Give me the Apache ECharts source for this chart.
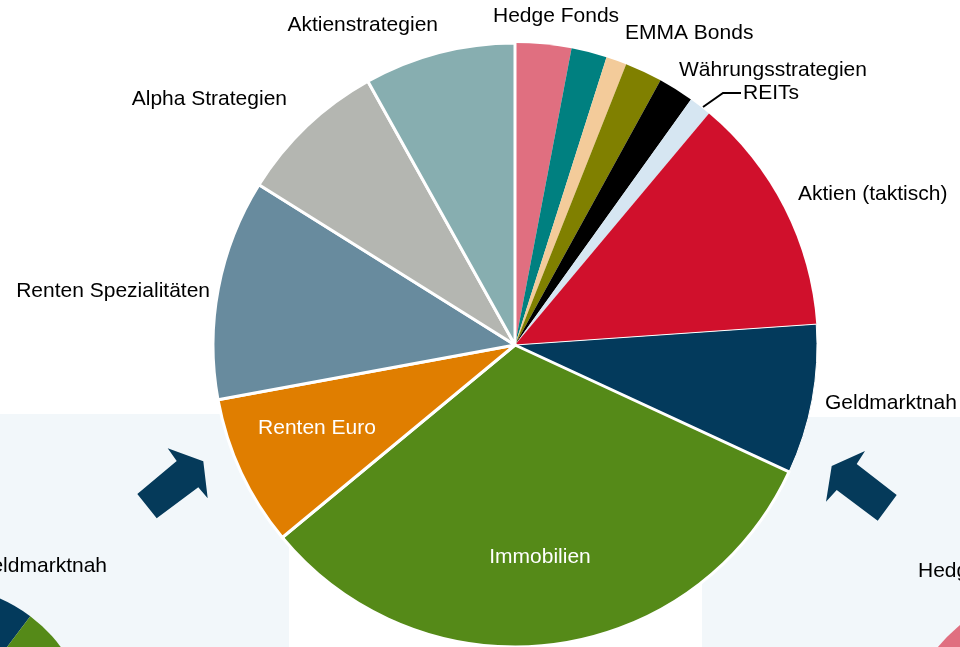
<!DOCTYPE html>
<html>
<head>
<meta charset="utf-8">
<script src="https://cdn.jsdelivr.net/npm/echarts@6/dist/echarts.min.js"></script>
<style>
  html, body { margin: 0; padding: 0; background: #ffffff; }
  #chart { width: 960px; height: 647px; }
</style>
</head>
<body>
<div id="chart"></div>
<script>
// Allocation shown in the large pie, clockwise from 12 o'clock (percent)
const categories = ['Hedge Fonds', 'Sonstige I', 'EMMA Bonds', 'Sonstige II', 'Währungsstrategien', 'REITs',
  'Aktien (taktisch)', 'Geldmarktnah', 'Immobilien', 'Renten Euro', 'Renten Spezialitäten',
  'Alpha Strategien', 'Aktienstrategien'];
const shares = [3.0, 1.9, 1.1, 2.0, 1.9, 1.2, 12.8, 8.0, 32.1, 8.1, 11.8, 8.0, 8.1];

// Neighbouring allocations, only partly inside the view
const leftCategories = ['Geldmarktnah', 'Immobilien', 'Übrige'];
const leftShares = [7.5, 35, 57.5];
const rightCategories = ['Hedge Fonds', 'Übrige'];
const rightShares = [11, 89];

const palette = {
  'Hedge Fonds': '#e06f80', 'Sonstige I': '#008080', 'EMMA Bonds': '#f3cb9a', 'Sonstige II': '#808000',
  'Währungsstrategien': '#000000', 'REITs': '#d6e6f2', 'Aktien (taktisch)': '#d0102c',
  'Geldmarktnah': '#033a5c', 'Immobilien': '#558a18', 'Renten Euro': '#e07e00',
  'Renten Spezialitäten': '#688b9e', 'Alpha Strategien': '#b4b6b1', 'Aktienstrategien': '#87aeb0',
  'Übrige': '#b4b6b1'
};
// white separators on the broad slices only
const borderWidths = {
  'Geldmarktnah': 1, 'Immobilien': 3, 'Renten Euro': 3, 'Renten Spezialitäten': 3,
  'Alpha Strategien': 3, 'Aktienstrategien': 3
};
const hiddenLabels = ['Sonstige I', 'Sonstige II'];
const insideLabels = ['Immobilien', 'Renten Euro'];

// label anchors: [x, y, align]
const labelSpots = {
  'Hedge Fonds': [493, 16, 'left'],
  'EMMA Bonds': [625, 33, 'left'],
  'Währungsstrategien': [679, 70, 'left'],
  'REITs': [743, 93, 'left'],
  'Aktien (taktisch)': [798, 194, 'left'],
  'Geldmarktnah': [825, 403, 'left'],
  'Immobilien': [540, 557, 'center'],
  'Renten Euro': [317, 428, 'center'],
  'Renten Spezialitäten': [210, 291, 'right'],
  'Alpha Strategien': [287, 99, 'right'],
  'Aktienstrategien': [438, 25, 'right']
};

const FONT = '"Liberation Sans", Arial, Helvetica, sans-serif';

function mainItems() {
  return categories.map((name, i) => {
    const inside = insideLabels.includes(name);
    return {
      name: name,
      value: shares[i],
      itemStyle: { color: palette[name], borderColor: '#ffffff', borderWidth: borderWidths[name] || 0 },
      label: {
        show: !hiddenLabels.includes(name),
        position: inside ? 'inside' : 'outside',
        color: inside ? '#ffffff' : '#000000'
      },
      labelLine: { show: name === 'REITs', lineStyle: { color: '#000000', width: 2 } }
    };
  });
}

function sideItems(names, values, labelled) {
  return names.map((name, i) => ({
    name: name,
    value: values[i],
    itemStyle: { color: palette[name] },
    label: { show: name === labelled, position: 'outside', color: '#000000' },
    labelLine: { show: false }
  }));
}

const chart = echarts.init(document.getElementById('chart'), null, { renderer: 'canvas' });

chart.setOption({
  animation: false,
  backgroundColor: '#ffffff',
  graphic: [
    { type: 'rect', z: 0, shape: { x: 0, y: 414, width: 289, height: 233 }, style: { fill: '#f2f7fa' } },
    { type: 'rect', z: 0, shape: { x: 702, y: 417, width: 258, height: 230 }, style: { fill: '#f2f7fa' } },
    { type: 'polygon', z: 1, shape: { points: [[203.3, 461.3], [207.7, 498.3], [198.3, 487.3], [156.7, 518.3], [137.3, 494], [176.7, 461], [167.7, 448.3]] }, style: { fill: '#053a5a' } },
    { type: 'polygon', z: 1, shape: { points: [[831.7, 466], [865, 451], [856.7, 464], [896.7, 495], [877.7, 520.7], [836.7, 490], [826, 501.7]] }, style: { fill: '#053a5a' } }
  ],
  series: [
    {
      type: 'pie',
      center: [-60, 736],
      radius: 150,
      startAngle: 80,
      silent: true,
      data: sideItems(leftCategories, leftShares, 'Geldmarktnah'),
      label: { fontFamily: FONT, fontSize: 21 },
      labelLayout: function () {
        return { x: 107, y: 566, align: 'right', verticalAlign: 'middle' };
      }
    },
    {
      type: 'pie',
      center: [1054, 742],
      radius: 150,
      startAngle: 150,
      silent: true,
      data: sideItems(rightCategories, rightShares, 'Hedge Fonds'),
      label: { fontFamily: FONT, fontSize: 21 },
      labelLayout: function () {
        return { x: 918, y: 571, align: 'left', verticalAlign: 'middle' };
      }
    },
    {
      type: 'pie',
      center: [515, 345],
      radius: 302,
      startAngle: 90,
      clockwise: true,
      avoidLabelOverlap: false,
      silent: true,
      data: mainItems(),
      label: { fontFamily: FONT, fontSize: 21 },
      labelLine: { length: 10, length2: 10 },
      labelLayout: function (p) {
        const name = categories[p.dataIndex];
        const s = labelSpots[name];
        if (!s) return {};
        const out = { x: s[0], y: s[1], align: s[2], verticalAlign: 'middle', hideOverlap: false };
        if (name === 'REITs') {
          out.labelLinePoints = [[703, 107], [723, 93], [741, 93]];
        }
        return out;
      }
    }
  ]
});
</script>
</body>
</html>
